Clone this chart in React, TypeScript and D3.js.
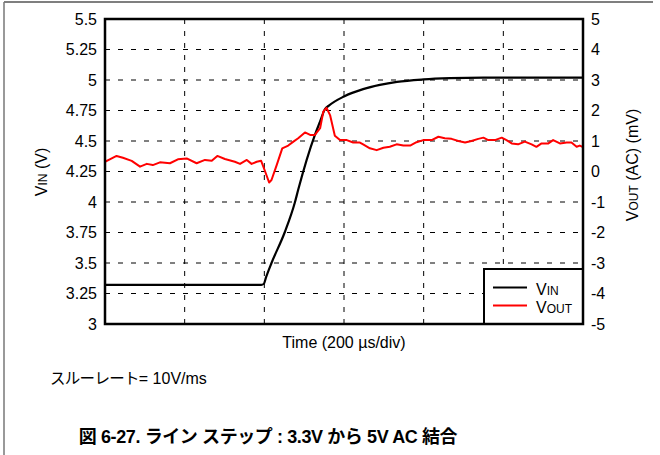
import React from "react";
import * as d3 from "d3";

const leftTicks = [3, 3.25, 3.5, 3.75, 4, 4.25, 4.5, 4.75, 5, 5.25, 5.5];
const leftTickLabels = ["3", "3.25", "3.5", "3.75", "4", "4.25", "4.5", "4.75", "5", "5.25", "5.5"];
const rightTicks = [-5, -4, -3, -2, -1, 0, 1, 2, 3, 4, 5];
const timeTicks = [0, 200, 400, 600, 800, 1000, 1200];

const vinTime = [0, 392, 399, 404, 418, 451, 477, 485, 527, 540, 552, 562, 600, 648, 690, 733, 800, 866, 950, 1200];
const vinVolts = [3.32, 3.32, 3.33, 3.38, 3.5, 3.75, 4.0, 4.1, 4.55, 4.66, 4.76, 4.79, 4.865, 4.925, 4.96, 4.985, 5.005, 5.015, 5.02, 5.02];

const voutTime = [0, 12, 29, 45, 67, 88, 105, 120, 138, 163, 183, 205, 230, 251, 268, 282, 301, 326, 339, 356, 368, 381, 392, 402, 412, 418, 431, 445, 460, 473, 485, 502, 515, 527, 540, 548, 556, 565, 577, 590, 607, 623, 640, 648, 665, 682, 699, 715, 732, 749, 766, 782, 799, 820, 837, 853, 870, 887, 904, 920, 937, 950, 962, 979, 996, 1008, 1021, 1037, 1054, 1071, 1083, 1096, 1113, 1125, 1142, 1159, 1171, 1184, 1192, 1200];
const voutMv = [0.32, 0.4, 0.51, 0.45, 0.35, 0.16, 0.25, 0.21, 0.3, 0.27, 0.4, 0.43, 0.27, 0.38, 0.35, 0.51, 0.41, 0.32, 0.25, 0.38, 0.25, 0.32, 0.35, 0.0, -0.36, -0.28, 0.21, 0.76, 0.85, 0.98, 1.09, 1.28, 1.2, 1.2, 1.42, 1.96, 2.09, 1.85, 1.17, 1.03, 1.03, 0.95, 0.95, 0.89, 0.76, 0.7, 0.78, 0.81, 0.89, 0.85, 0.85, 0.96, 1.03, 1.03, 1.14, 1.09, 1.07, 1.0, 0.95, 1.0, 1.07, 1.11, 1.03, 1.03, 1.11, 1.03, 0.92, 0.89, 0.98, 0.89, 0.81, 0.92, 0.92, 1.03, 0.92, 0.95, 0.95, 0.81, 0.85, 0.8];

const FONT = "'Liberation Sans', Arial, sans-serif";
const JFONT = "'Noto Sans CJK JP', sans-serif";

export default function App() {
  const L = 105, R = 583, T = 19, B = 324;
  const x = d3.scaleLinear().domain([0, 1200]).range([L, R]);
  const yL = d3.scaleLinear().domain([3, 5.5]).range([B, T]);
  const yR = d3.scaleLinear().domain([-5, 5]).range([B, T]);

  const vinLine = d3.line<number>().x((_, i) => x(vinTime[i])).y((d) => yL(d)).curve(d3.curveMonotoneX);
  const voutLine = d3.line<number>().x((_, i) => x(voutTime[i])).y((d) => yR(d)).curve(d3.curveLinear);

  const lgX = 484, lgY = 269;

  return (
    <svg width={660} height={455} style={{ position: "absolute", left: 0, top: 0 }} fontFamily={FONT}>
      <rect x={0} y={0} width={660} height={455} fill="#fff" />
      {/* outer frame */}
      <line x1={4} y1={2} x2={653} y2={2} stroke="#555" strokeWidth={1.5} />
      <line x1={4} y1={2} x2={4} y2={455} stroke="#777" strokeWidth={1.5} />

      {/* grid */}
      {timeTicks.slice(1, -1).map((t) => (
        <line key={"vg" + t} x1={x(t)} x2={x(t)} y1={T} y2={B} stroke="#000" strokeWidth={1} strokeDasharray="5,7" />
      ))}
      {leftTicks.slice(1, -1).map((v) => (
        <line key={"hg" + v} x1={L} x2={R} y1={yL(v)} y2={yL(v)} stroke="#000" strokeWidth={1} strokeDasharray="5,8" />
      ))}

      {/* data */}
      <path d={vinLine(vinVolts) || ""} fill="none" stroke="#000" strokeWidth={2.2} />
      <path d={voutLine(voutMv) || ""} fill="none" stroke="#ff0000" strokeWidth={2} strokeLinejoin="round" />

      {/* legend */}
      <rect x={lgX} y={lgY} width={R - lgX} height={B - lgY} fill="#fff" stroke="#000" strokeWidth={2} />
      <line x1={493} x2={527} y1={287.5} y2={287.5} stroke="#000" strokeWidth={2} />
      <line x1={493} x2={527} y1={305.5} y2={305.5} stroke="#ff0000" strokeWidth={2} />
      <text x={536} y={295} fontSize={16} fill="#000">
        V<tspan fontSize={12}>IN</tspan>
      </text>
      <text x={536} y={313} fontSize={16} fill="#000">
        V<tspan fontSize={12}>OUT</tspan>
      </text>

      {/* plot frame */}
      <rect x={L} y={T} width={R - L} height={B - T} fill="none" stroke="#000" strokeWidth={2.5} />

      {/* left ticks */}
      {leftTicks.map((v, i) => (
        <text key={"lt" + v} x={97} y={yL(v) + 5.5} fontSize={16} textAnchor="end" fill="#000">
          {leftTickLabels[i]}
        </text>
      ))}
      {/* right ticks */}
      {rightTicks.map((v) => (
        <text key={"rt" + v} x={591} y={yR(v) + 5.5} fontSize={16} textAnchor="start" fill="#000">
          {String(v)}
        </text>
      ))}

      {/* axis titles */}
      <text transform="translate(47,172) rotate(-90)" fontSize={16} textAnchor="middle" fill="#000">
        V<tspan fontSize={12}>IN</tspan> (V)
      </text>
      <text transform="translate(638,165) rotate(-90)" fontSize={16} textAnchor="middle" fill="#000">
        V<tspan fontSize={12}>OUT</tspan>  (AC) (mV)
      </text>
      <text x={344} y={348} fontSize={16} textAnchor="middle" fill="#000">
        Time (200 µs/div)
      </text>

      {/* annotation */}
      <text x={50} y={384} fontSize={16} fill="#000">
        <tspan fontFamily={JFONT} fontSize={15.5} letterSpacing={-0.7}>スルーレート</tspan>= 10V/ms
      </text>

      {/* caption */}
      <text x={268} y={443} fontSize={18} fontWeight="bold" textAnchor="middle" letterSpacing={-0.4} fontFamily={"'Liberation Sans', 'Noto Sans CJK JP', sans-serif"} fill="#000">
        図 6-27. ライン ステップ : 3.3V から 5V AC 結合
      </text>
    </svg>
  );
}
